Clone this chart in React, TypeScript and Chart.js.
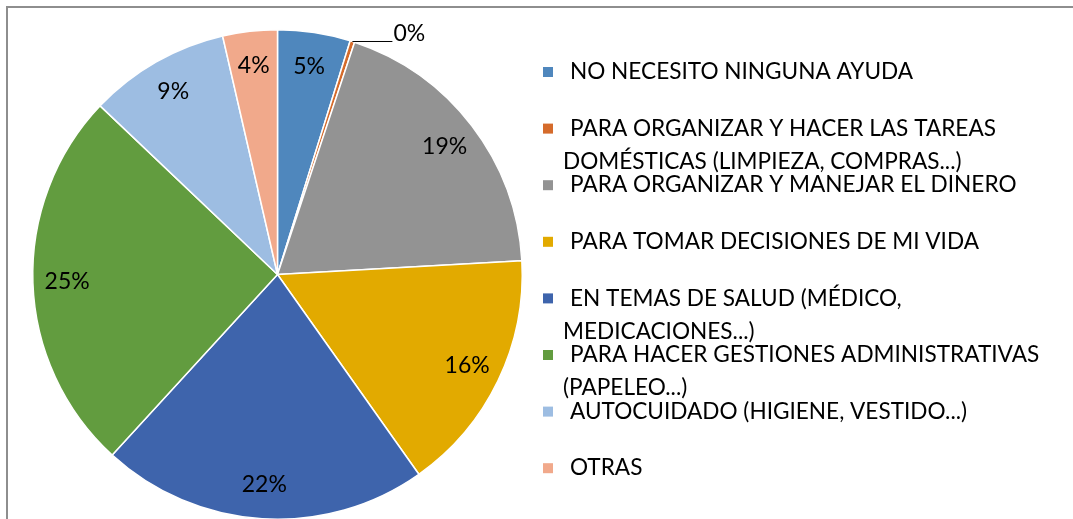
import React, { useEffect, useRef } from "react";
import { Chart, registerables } from "chart.js";

Chart.register(...registerables);

const categories: string[][] = [
  ["NO NECESITO NINGUNA AYUDA"],
  ["PARA ORGANIZAR Y HACER LAS TAREAS", "DOMÉSTICAS (LIMPIEZA, COMPRAS...)"],
  ["PARA ORGANIZAR Y MANEJAR EL DINERO"],
  ["PARA TOMAR DECISIONES DE MI VIDA"],
  ["EN TEMAS DE SALUD (MÉDICO,", "MEDICACIONES...)"],
  ["PARA HACER GESTIONES ADMINISTRATIVAS", "(PAPELEO...)"],
  ["AUTOCUIDADO (HIGIENE, VESTIDO...)"],
  ["OTRAS"],
];
const values = [4.8, 0.3, 19.0, 16.1, 21.6, 25.3, 9.3, 3.6];
const colors = ["#4F87BD", "#D56B2B", "#939393", "#E2AA00", "#3E64AC", "#629C3F", "#9DBDE2", "#F1A98B"];

const FONT = "Lato, 'Open Sans', sans-serif";

const overlayPlugin = {
  id: "overlay",
  afterDraw(chart: any) {
    const ctx = chart.ctx as CanvasRenderingContext2D;
    ctx.save();
    // frame
    ctx.strokeStyle = "#8e8e8e";
    ctx.lineWidth = 2;
    ctx.beginPath();
    ctx.moveTo(7, 540);
    ctx.lineTo(7, 7);
    ctx.lineTo(1090, 7);
    ctx.stroke();

    // data labels
    const total = values.reduce((a, b) => a + b, 0);
    const meta = chart.getDatasetMeta(0);
    ctx.fillStyle = "#000";
    ctx.font = `23px ${FONT}`;
    ctx.textBaseline = "middle";
    meta.data.forEach((arc: any, i: number) => {
      const p = arc.getProps(["x", "y", "startAngle", "endAngle", "outerRadius"], true);
      const mid = (p.startAngle + p.endAngle) / 2;
      const pct = Math.round((values[i] / total) * 100);
      const txt = `${pct}%`;
      if (values[i] / total < 0.01) {
        const ex = p.x + Math.cos(mid) * p.outerRadius;
        const ey = p.y + Math.sin(mid) * p.outerRadius;
        ctx.strokeStyle = "#000";
        ctx.lineWidth = 1;
        ctx.beginPath();
        ctx.moveTo(ex, ey);
        ctx.lineTo(ex + 40, ey);
        ctx.stroke();
        ctx.textAlign = "left";
        ctx.fillText(txt, ex + 41, ey - 8);
      } else {
        const r = p.outerRadius * 0.86;
        ctx.textAlign = "center";
        ctx.fillText(txt, p.x + Math.cos(mid) * r, p.y + Math.sin(mid) * r);
      }
    });

    // legend
    ctx.font = `22.6px ${FONT}`;
    ctx.textAlign = "left";
    categories.forEach((lines, i) => {
      const y0 = 72 + i * 56.6;
      ctx.fillStyle = colors[i];
      ctx.fillRect(543, y0 - 5, 10, 10);
      ctx.fillStyle = "#000";
      lines.forEach((ln, j) => {
        if (j === 0) ctx.fillText(ln, 570, y0);
        else ctx.fillText(ln, 563, y0 + j * 33);
      });
    });
    ctx.restore();
  },
};

export default function App() {
  const ref = useRef<HTMLCanvasElement | null>(null);
  useEffect(() => {
    if (!ref.current) return;
    const chart = new Chart(ref.current, {
      type: "pie",
      data: {
        labels: categories,
        datasets: [
          {
            data: values,
            backgroundColor: colors,
            borderColor: "#ffffff",
            borderWidth: 1.5,
          },
        ],
      },
      options: {
        animation: false,
        responsive: false,
        maintainAspectRatio: false,
        layout: { padding: { left: 32, right: 550, top: 29, bottom: 2 } },
        plugins: { legend: { display: false }, tooltip: { enabled: false } },
      },
      plugins: [overlayPlugin],
    });
    return () => chart.destroy();
  }, []);
  return (
    <div style={{ position: "absolute", left: 0, top: 0, width: 1073, height: 519, overflow: "hidden", background: "#fff" }}>
      <canvas ref={ref} width={1073} height={522} style={{ display: "block", width: 1073, height: 522 }} />
    </div>
  );
}
